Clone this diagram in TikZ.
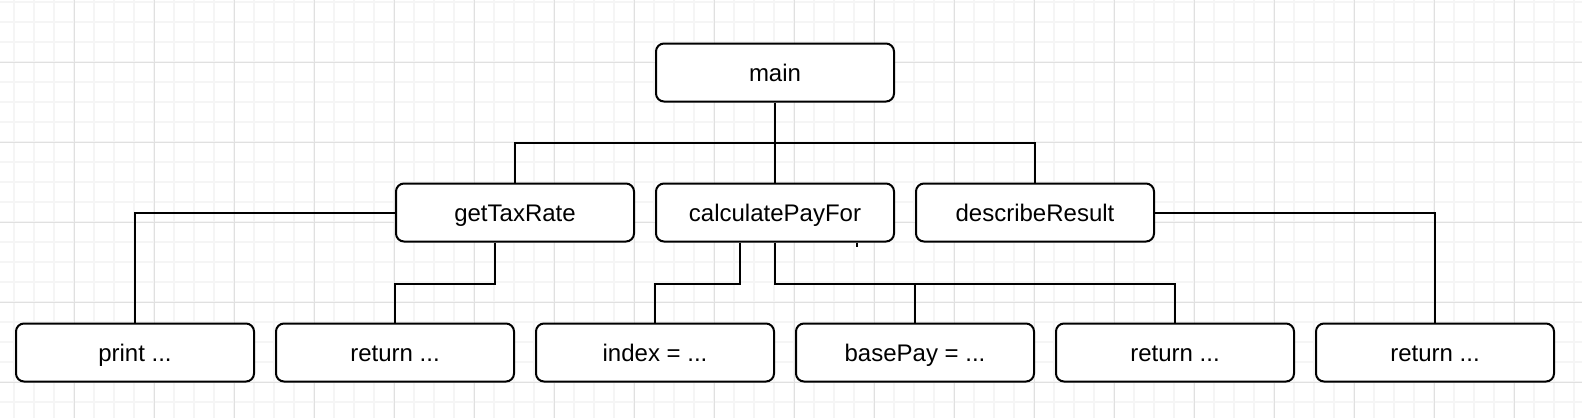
\documentclass[tikz,border=0pt]{standalone}
\usepackage{fontspec}
\setmainfont{Liberation Sans}
\begin{document}
\begin{tikzpicture}[x=1pt,y=-1pt,
  box/.style={draw=black,line width=2pt,fill=white,rounded corners=8pt,
    minimum width=238pt,minimum height=58pt,inner sep=0pt,
    text height=19.5pt,text depth=2pt,
    font=\fontsize{24}{28}\selectfont},
  conn/.style={draw=black,line width=2pt},
  minorgrid/.style={draw={rgb,255:red,245;green,245;blue,245},line width=1.2pt},
  majorgrid/.style={draw={rgb,255:red,224;green,224;blue,224},line width=1pt}]
\useasboundingbox (0,0) rectangle (1582,418);
\fill[white] (0,0) rectangle (1582,418);
\foreach \x in {14,34,...,1574} \draw[minorgrid] (\x,0) -- (\x,418);
\foreach \y in {2,22,...,402} \draw[minorgrid] (0,\y) -- (1582,\y);
\foreach \x in {74,154,...,1554} \draw[majorgrid] (\x,0) -- (\x,418);
\foreach \y in {62,142,...,382} \draw[majorgrid] (0,\y) -- (1582,\y);

\node[box] (main) at (775,72.5) {main};
\node[box] (get) at (515,212.5) {getTaxRate};
\node[box] (calc) at (775,212.5) {calculatePayFor};
\node[box] (desc) at (1035,212.5) {describeResult};
\node[box] (print) at (135,352.5) {print ...};
\node[box] (ret1) at (395,352.5) {return ...};
\node[box] (index) at (655,352.5) {index = ...};
\node[box] (base) at (915,352.5) {basePay = ...};
\node[box] (ret2) at (1175,352.5) {return ...};
\node[box] (ret3) at (1435,352.5) {return ...};

\coordinate (bus1) at (775,143);
\draw[conn] (main.south) -- (bus1);
\draw[conn] (get.north) |- (bus1) -| (desc.north);
\draw[conn] (bus1) -- (calc.north);

\draw[conn] (get.west) -| (print.north);
\draw[conn] ([xshift=-20pt]get.south) -- ++(0,41) -| (ret1.north);

\draw[conn] ([xshift=-35pt]calc.south) -- ++(0,41) -| (index.north);
\draw[conn] (calc.south) -- ++(0,41) coordinate (bus2) -| (ret2.north);
\draw[conn] (bus2) -| (base.north);
\coordinate (tick) at ([xshift=82pt]calc.south);
\draw[black,line width=1.2pt] (tick) -- ++(0,4);

\draw[conn] (desc.east) -| (ret3.north);
\end{tikzpicture}
\end{document}
